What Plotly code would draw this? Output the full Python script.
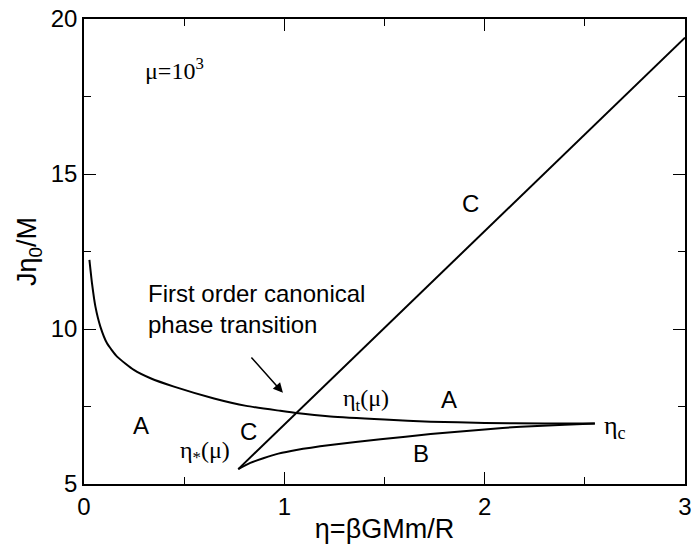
import plotly.graph_objects as go

# Curve A (high-temperature branch)
a_x = [0.027, 0.04, 0.057, 0.082, 0.115, 0.165, 0.249, 0.332, 0.449, 0.649, 0.81, 0.98, 1.06, 1.23, 1.5, 1.73, 2.0, 2.3, 2.55]
a_y = [12.23, 11.47, 10.72, 10.07, 9.54, 9.11, 8.68, 8.41, 8.14, 7.76, 7.52, 7.36, 7.29, 7.18, 7.08, 7.01, 6.97, 6.95, 6.95]
# Curve B (lower branch)
b_x = [0.77, 0.83, 0.895, 0.97, 1.06, 1.23, 1.48, 1.73, 2.0, 2.18, 2.4, 2.55]
b_y = [5.48, 5.68, 5.83, 5.98, 6.10, 6.26, 6.44, 6.61, 6.76, 6.85, 6.91, 6.95]
# Line C
c_x = [0.77, 3.0]
c_y = [5.48, 19.40]

fig = go.Figure()
for xs, ys, shp in [(a_x, a_y, "spline"), (b_x, b_y, "spline"), (c_x, c_y, "linear")]:
    fig.add_trace(go.Scatter(x=xs, y=ys, mode="lines", line=dict(color="black", width=2, shape=shp, smoothing=0.5),
                             showlegend=False, hoverinfo="skip"))

sans = "Liberation Sans, Arial, sans-serif"
serif = "Liberation Serif, Times New Roman, serif"

labels = [
    (0.45, 18.4, "μ=10<sup>3</sup>", serif, 24),
    (1.93, 14.05, "C", sans, 24),
    (0.285, 6.9, "A", sans, 24),
    (0.82, 6.68, "C", sans, 24),
    (0.605, 6.03, "η<sub>*</sub>(μ)", serif, 24),
    (1.41, 7.71, "η<sub>t</sub>(μ)", serif, 24),
    (1.82, 7.71, "A", sans, 24),
    (1.68, 6.0, "B", sans, 24),
    (2.65, 6.85, "η<sub>c</sub>", serif, 26),
]
annotations = []
for x, y, t, f, s in labels:
    annotations.append(dict(x=x, y=y, xref="x", yref="y", text=t, showarrow=False,
                            font=dict(family=f, size=s, color="black"), xanchor="center", yanchor="middle"))
annotations.append(dict(x=0.31, y=10.65, xref="x", yref="y",
                        text="First order canonical<br>phase transition", showarrow=False,
                        align="left", xanchor="left", yanchor="middle",
                        font=dict(family=sans, size=24, color="black")))
annotations.append(dict(x=0.993, y=7.94, ax=0.829, ay=9.13, xref="x", yref="y", axref="x", ayref="y",
                        text="", showarrow=True, arrowhead=2, arrowsize=1.3, arrowwidth=1.5,
                        arrowcolor="black"))

axis_common = dict(showgrid=False, zeroline=False, showline=True, linecolor="black", linewidth=1.5,
                   mirror="ticks", ticks="inside", ticklen=12, tickwidth=1.2, tickcolor="black",
                   tickfont=dict(family=sans, size=24, color="black"), automargin=False)

fig.update_layout(
    width=693, height=544,
    margin=dict(l=84, r=8, t=19, b=60),
    paper_bgcolor="white", plot_bgcolor="white",
    annotations=annotations,
    xaxis=dict(range=[0, 3], tickvals=[0, 1, 2, 3], **axis_common,
               minor=dict(ticks="inside", ticklen=7, tickwidth=1.2, tickcolor="black", tickvals=[0.5, 1.5, 2.5]),
               title=dict(text="η=βGMm/R", font=dict(family=sans, size=27, color="black"), standoff=2)),
    yaxis=dict(range=[5, 20], tickvals=[5, 10, 15, 20], **axis_common,
               minor=dict(ticks="inside", ticklen=7, tickwidth=1.2, tickcolor="black", tickvals=[7.5, 12.5, 17.5]),
               title=dict(text="Jη<sub>0</sub>/M", font=dict(family=sans, size=27, color="black"), standoff=6)),
)

fig.write_html("out.html")
